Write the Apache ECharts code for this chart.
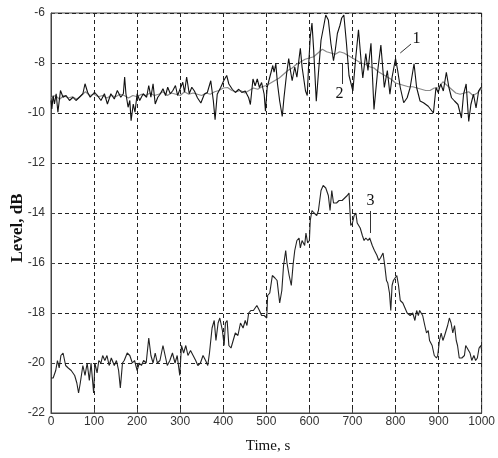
<!DOCTYPE html>
<html>
<head>
<meta charset="utf-8">
<script src="https://cdn.jsdelivr.net/npm/echarts@6/dist/echarts.min.js"></script>
<style>html,body{margin:0;padding:0;background:#fff;}#c{width:498px;height:458px;}</style>
</head>
<body>
<div id="c"></div>
<script>
// Curve 1 (noisy, black)
const t1 = [0,2,5,8,12,16,22,28,35,43,51,58,66,74,79,85,91,101,108,116,124,131,139,147,154,162,168,171,174,179,183,186,191,195,200,206,214,222,227,232,237,242,248,254,260,266,271,277,283,289,294,300,306,310,315,321,327,333,340,348,356,363,371,377,381,386,394,401,408,413,421,428,436,443,451,459,463,469,474,479,484,489,495,498,502,508,515,518,522,526,531,537,541,547,552,556,560,566,571,576,579,583,587,591,595,598,602,606,610,616,622,627,633,638,644,650,656,660,665,671,675,680,686,692,701,707,714,720,724,731,736,743,750,758,766,774,781,787,792,800,805,811,819,827,834,843,849,857,865,876,888,894,899,905,911,918,924,930,937,945,953,958,964,970,975,981,987,993,998,1000];
const v1 = [-9.5,-9.84,-9.3,-9.64,-9.23,-9.97,-9.1,-9.37,-9.3,-9.5,-9.37,-9.5,-9.37,-9.23,-8.83,-9.17,-9.37,-9.17,-9.3,-9.5,-9.23,-9.64,-9.23,-9.44,-9.1,-9.37,-9.23,-8.56,-9.23,-9.77,-9.5,-10.31,-9.64,-9.97,-9.23,-9.5,-9.23,-9.37,-8.9,-9.37,-8.83,-9.64,-9.37,-9.23,-9.03,-9.3,-8.97,-9.23,-9.1,-8.9,-9.3,-9.03,-8.77,-9.17,-8.56,-9.23,-8.97,-9.12,-9.39,-9.6,-9.25,-9.18,-8.71,-9.52,-10.27,-9.25,-8.98,-8.71,-8.5,-8.84,-9.05,-9.18,-9.05,-9.18,-9.12,-9.39,-9.66,-8.64,-8.91,-8.64,-8.98,-8.78,-9.25,-9.93,-8.98,-8.57,-8.1,-8.37,-8.03,-8.84,-9.52,-10.14,-9.39,-8.44,-7.82,-8.3,-8.71,-8.16,-8.57,-7.82,-7.41,-8.16,-8.64,-9.12,-9.3,-8.16,-6.96,-6.4,-7.5,-9.53,-8.18,-7.09,-6.55,-6.08,-6.28,-7.23,-7.91,-7.5,-6.82,-6.49,-6.2,-6.08,-7.2,-8.5,-9.12,-7.9,-6.67,-7.9,-8.6,-7.62,-8.3,-7.21,-9.86,-8.4,-7.28,-8.98,-8.3,-9.25,-8.57,-7.82,-8.3,-8.98,-9.59,-9.39,-8.98,-8.03,-8.98,-9.52,-9.59,-9.73,-10.0,-8.98,-9.18,-8.84,-9.12,-8.37,-8.98,-9.39,-9.52,-9.66,-10.2,-9.25,-8.84,-10.34,-9.66,-9.25,-9.8,-9.12,-8.98,-9.0];

// Curve 2 (smoothed, grey)
const t2 = [0,10,20,30,40,50,60,70,80,90,100,110,120,130,140,150,160,170,180,190,200,210,220,230,240,250,260,270,280,290,300,310,320,330,340,350,360,370,380,390,400,410,420,430,440,450,460,470,480,490,500,510,520,530,540,550,560,570,580,590,600,610,620,630,640,650,660,670,680,690,700,710,720,730,740,750,760,770,780,790,800,810,820,830,840,850,860,870,880,890,900,910,920,930,940,950,960,970,980,990,1000];
const v2 = [-9.4,-9.3,-9.45,-9.3,-9.4,-9.35,-9.45,-9.3,-9.15,-9.3,-9.25,-9.35,-9.3,-9.4,-9.3,-9.35,-9.25,-9.3,-9.4,-9.3,-9.35,-9.25,-9.3,-9.2,-9.3,-9.25,-9.15,-9.3,-9.2,-9.25,-9.3,-9.15,-9.25,-9.2,-9.25,-9.3,-9.2,-9.25,-9.15,-9.1,-9.0,-8.98,-9.1,-9.15,-9.1,-9.2,-9.1,-9.0,-9.05,-8.95,-8.9,-8.8,-8.7,-8.6,-8.45,-8.3,-8.2,-8.05,-7.95,-7.85,-7.8,-7.75,-7.6,-7.45,-7.55,-7.6,-7.65,-7.55,-7.6,-7.7,-7.8,-7.9,-8.0,-8.05,-8.15,-8.2,-8.35,-8.45,-8.55,-8.65,-8.8,-8.85,-8.9,-8.95,-8.95,-9.0,-9.05,-9.1,-9.1,-9.0,-9.0,-8.75,-8.9,-9.05,-9.2,-9.25,-9.2,-9.15,-9.3,-9.2,-9.0];

// Curve 3 (lower, black)
const t3 = [0,5,11,15,19,23,28,34,40,47,55,60,64,68,74,79,84,89,93,99,102,107,111,116,120,125,130,135,140,147,152,157,161,166,170,177,183,189,194,200,205,210,215,221,227,232,237,242,247,253,260,265,270,276,282,288,293,299,303,308,313,318,324,330,336,341,347,353,359,364,368,374,379,383,388,392,398,402,405,409,413,418,423,428,434,440,446,451,455,459,464,470,478,484,489,495,501,503,508,514,520,525,531,536,540,545,548,553,558,562,566,571,576,579,583,589,592,596,600,602,606,611,617,621,627,632,638,644,648,652,656,663,669,676,682,688,692,696,700,704,708,711,718,723,727,731,736,740,746,751,757,761,765,771,775,779,782,786,789,792,795,799,803,807,811,817,822,827,834,840,845,849,853,856,863,868,872,876,879,885,890,895,898,902,906,910,914,918,921,925,929,933,937,941,944,948,954,960,963,967,973,977,982,986,990,994,998,1000];
const v3 = [-20.6,-20.6,-20.3,-19.9,-20.2,-19.7,-19.6,-20.1,-20.2,-20.3,-20.5,-20.8,-21.2,-20.8,-20.1,-20.5,-20.0,-20.7,-20.0,-21.2,-20.0,-20.4,-19.9,-20.0,-19.7,-19.9,-19.7,-20.1,-19.8,-20.1,-19.9,-20.3,-21.0,-20.0,-19.9,-19.6,-19.7,-20.0,-19.9,-20.3,-20.0,-20.1,-19.9,-20.0,-19.0,-19.7,-20.0,-19.6,-20.0,-19.9,-19.3,-19.7,-20.1,-19.9,-19.6,-20.0,-19.7,-20.5,-19.3,-19.6,-19.3,-19.7,-19.5,-19.7,-19.9,-20.1,-20.0,-19.7,-19.9,-20.1,-19.6,-18.6,-18.3,-19.1,-18.4,-18.2,-18.7,-19.3,-18.4,-18.3,-19.3,-19.4,-19.1,-18.8,-18.9,-18.4,-18.6,-18.3,-18.5,-18.0,-17.9,-17.9,-17.7,-17.9,-18.1,-18.1,-18.2,-17.3,-17.2,-16.5,-16.6,-16.7,-17.6,-17.1,-16.1,-15.5,-16.0,-16.5,-16.9,-16.1,-15.5,-15.1,-15.0,-15.4,-15.1,-15.3,-14.8,-15.2,-15.1,-14.3,-13.9,-14.0,-14.1,-13.9,-13.1,-12.9,-13.0,-13.3,-13.9,-13.1,-13.6,-13.6,-13.5,-13.5,-13.4,-13.3,-13.2,-14.5,-14.4,-14.1,-14.0,-14.4,-14.6,-14.9,-15.1,-15.0,-15.1,-15.0,-15.3,-15.5,-15.7,-15.9,-15.8,-15.6,-16.1,-16.7,-16.8,-17.2,-17.9,-16.9,-16.7,-16.7,-16.5,-16.9,-17.5,-17.6,-17.8,-18.0,-18.1,-18.0,-18.3,-17.9,-18.1,-17.9,-18.1,-18.5,-18.8,-18.7,-19.1,-19.3,-19.7,-19.8,-19.7,-19.1,-18.8,-19.1,-18.9,-18.9,-18.5,-18.2,-18.4,-18.8,-18.5,-19.1,-19.3,-19.8,-19.8,-19.7,-19.3,-19.3,-19.6,-19.9,-19.7,-19.9,-19.8,-19.4,-19.3,-19.5];

const xTicks = [0,100,200,300,400,500,600,700,800,900,1000];
const yTicks = [-22,-20,-18,-16,-14,-12,-10,-8,-6];

const zip = (t, v) => t.map((x, i) => [x, v[i]]);

const chart = echarts.init(document.getElementById('c'), null, {renderer: 'canvas'});
const labelFont = {fontFamily: 'Arial, "Liberation Sans", sans-serif', fontSize: 12, color: '#333'};
const annotFont = {fontFamily: '"Liberation Serif", serif', fontSize: 16, color: '#111'};

function annot(txt, coord) {
  return {coord: coord, name: txt, symbol: 'circle', symbolSize: 1,
          itemStyle: {color: 'rgba(0,0,0,0)'},
          label: {show: true, position: 'inside', formatter: txt, ...annotFont}};
}

chart.setOption({
  animation: false,
  backgroundColor: '#fff',
  grid: {left: 51, right: 13, top: 13, bottom: 45, show: true, borderColor: '#444', borderWidth: 1, containLabel: false},
  xAxis: {
    type: 'value', min: xTicks[0], max: xTicks[xTicks.length - 1], interval: 100,
    axisLine: {show: true, lineStyle: {color: '#444'}},
    axisTick: {show: true, inside: true, length: 4, lineStyle: {color: '#444'}},
    axisLabel: {...labelFont, margin: 3, formatter: v => String(v)},
    splitLine: {show: true, lineStyle: {color: '#222', type: [4, 3], width: 1}}
  },
  yAxis: {
    type: 'value', min: yTicks[0], max: yTicks[yTicks.length - 1], interval: 2,
    axisLine: {show: true, lineStyle: {color: '#444'}},
    axisTick: {show: true, inside: true, length: 4, lineStyle: {color: '#444'}},
    axisLabel: {...labelFont, margin: 6, formatter: v => String(v)},
    splitLine: {show: true, lineStyle: {color: '#222', type: [4, 3], width: 1}}
  },
  graphic: [
    {type: 'text', x: 268, y: 446, style: {text: 'Time, s', font: '15px "Liberation Serif", serif', fill: '#111', align: 'center', verticalAlign: 'middle'}},
    {type: 'text', x: 18, y: 228, rotation: Math.PI / 2, style: {text: 'Level, dB', font: 'bold 17px "Liberation Serif", serif', fill: '#111', align: 'center', verticalAlign: 'middle'}}
  ],
  series: [
    {name: '2', type: 'line', data: zip(t2, v2), showSymbol: false, symbol: 'none',
     lineStyle: {color: '#8a8a8a', width: 1.2}, z: 2},
    {name: '1', type: 'line', data: zip(t1, v1), showSymbol: false, symbol: 'none',
     lineStyle: {color: '#111', width: 1.1}, z: 3,
     markLine: {silent: true, symbol: 'none', label: {show: false},
       lineStyle: {color: '#333', type: 'solid', width: 1},
       data: [
         [{coord: [836, -7.24]}, {coord: [811, -7.6]}],
         [{coord: [677, -8.0]}, {coord: [677, -8.84]}],
         [{coord: [742, -13.92]}, {coord: [742, -14.8]}]
       ]},
     markPoint: {silent: true, data: [annot('1', [849, -7.05]), annot('2', [670, -9.25]), annot('3', [742, -13.5])]}
    },
    {name: '3', type: 'line', data: zip(t3, v3), showSymbol: false, symbol: 'none',
     lineStyle: {color: '#222', width: 1.1}, z: 3}
  ]
});
</script>
</body>
</html>
